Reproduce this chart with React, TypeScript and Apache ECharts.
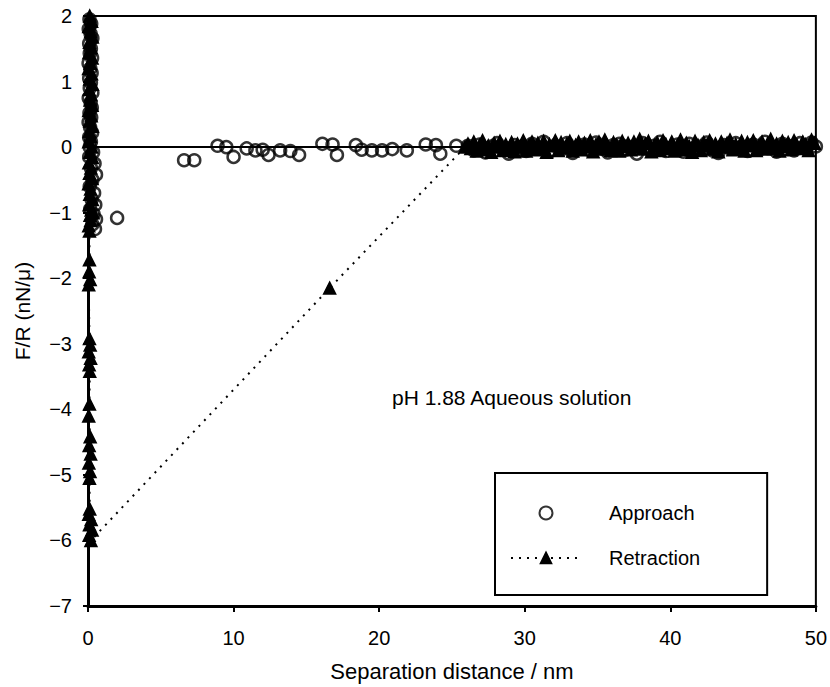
import React, { useEffect, useRef } from 'react';
import * as echarts from 'echarts';

const FONT = '"Liberation Sans", Arial, Helvetica, sans-serif';

// Approach (circles): contact column at x≈0
const approachCluster: [number, number][] = [
  [0.10, 1.95], [0.22, 1.88], [0.05, 1.80], [0.18, 1.73], [0.30, 1.66], [0.08, 1.58],
  [0.20, 1.50], [0.12, 1.43], [0.28, 1.36], [0.04, 1.28], [0.16, 1.20], [0.25, 1.13],
  [0.08, 1.05], [0.20, 0.98], [0.12, 0.90], [0.30, 0.83], [0.05, 0.75], [0.18, 0.68],
  [0.26, 0.60], [0.10, 0.52], [0.22, 0.45], [0.04, 0.38], [0.15, 0.30], [0.28, 0.22],
  [0.08, 0.15], [0.20, 0.08], [0.12, 0.0], [0.35, -0.08], [0.08, -0.15], [0.45, -0.25],
  [0.20, -0.32], [0.55, -0.42], [0.30, -0.50], [0.12, -0.60], [0.42, -0.70], [0.25, -0.80],
  [0.50, -0.88], [0.15, -0.95], [0.38, -1.02], [0.55, -1.10], [0.30, -1.18], [0.48, -1.25]
];

// Approach: isolated points between 2 and 26 nm
const approachPoints: [number, number][] = [
  [2.0, -1.08], [6.6, -0.2], [7.3, -0.2], [8.9, 0.02], [9.5, 0.0], [10.0, -0.15],
  [10.9, -0.02], [11.5, -0.05], [12.0, -0.04], [12.4, -0.12], [13.2, -0.05], [13.9, -0.06],
  [14.5, -0.12], [16.1, 0.05], [16.8, 0.04], [17.1, -0.12], [18.4, 0.03], [18.8, -0.04],
  [19.5, -0.05], [20.2, -0.05], [20.9, -0.03], [21.9, -0.05], [23.2, 0.04], [23.9, 0.03],
  [24.2, -0.1], [25.3, 0.02]
];

// Approach: baseline band 26–50 nm
const approachBand: [number, number][] = [
  [26.1, 0.02], [26.5, -0.05], [26.9, 0.04], [27.3, -0.08], [27.7, 0.01], [28.1, 0.06],
  [28.5, -0.03], [28.9, -0.1], [29.3, 0.03], [29.7, 0.0], [30.1, -0.06], [30.5, 0.05],
  [30.9, -0.02], [31.3, 0.08], [31.7, -0.07], [32.1, 0.02], [32.5, -0.04], [32.9, 0.06],
  [33.3, -0.09], [33.7, 0.01], [34.1, 0.04], [34.5, -0.05], [34.9, 0.07], [35.3, -0.02],
  [35.7, -0.08], [36.1, 0.03], [36.5, 0.05], [36.9, -0.04], [37.3, 0.0], [37.7, -0.1],
  [38.1, 0.06], [38.5, -0.03], [38.9, 0.02], [39.3, 0.08], [39.7, -0.06], [40.1, -0.01],
  [40.5, 0.04], [40.9, -0.07], [41.3, 0.05], [41.7, -0.03], [42.1, 0.01], [42.5, 0.07],
  [42.9, -0.05], [43.3, -0.09], [43.7, 0.03], [44.1, -0.02], [44.5, 0.06], [44.9, 0.0],
  [45.3, -0.06], [45.7, 0.04], [46.1, -0.04], [46.5, 0.08], [46.9, -0.01], [47.3, -0.07],
  [47.7, 0.05], [48.1, 0.02], [48.5, -0.05], [48.9, 0.06], [49.3, -0.03], [49.7, 0.07],
  [50.0, 0.01]
];

// Retraction (triangles): contact column at x≈0, down to the adhesion minimum
const retractionCluster: [number, number][] = [
  [0.12, 2.0], [0.25, 1.92], [0.05, 1.84], [0.18, 1.76], [0.30, 1.68], [0.10, 1.60],
  [0.22, 1.52], [0.06, 1.44], [0.28, 1.36], [0.15, 1.28], [0.04, 1.20], [0.24, 1.12],
  [0.12, 1.04], [0.30, 0.96], [0.08, 0.88], [0.20, 0.80], [0.14, 0.72], [0.28, 0.64],
  [0.05, 0.56], [0.22, 0.48], [0.12, 0.40], [0.30, 0.32], [0.08, 0.24], [0.18, 0.16],
  [0.05, 0.08], [0.25, 0.0], [0.12, -0.08], [0.30, -0.16], [0.06, -0.24], [0.20, -0.32],
  [0.10, -0.40], [0.28, -0.48], [0.04, -0.56], [0.18, -0.64], [0.12, -0.72], [0.30, -0.80],
  [0.08, -0.88], [0.22, -0.96], [0.14, -1.04], [0.35, -1.0], [0.18, -1.12], [0.05, -1.20],
  [0.10, -1.28], [0.10, -1.72], [0.08, -1.9], [0.15, -2.02], [0.05, -2.1],
  [0.10, -2.92], [0.15, -3.02], [0.05, -3.12], [0.18, -3.22], [0.08, -3.32], [0.12, -3.42],
  [0.10, -3.92], [0.05, -4.1], [0.15, -4.42], [0.08, -4.55], [0.18, -4.68], [0.06, -4.82],
  [0.14, -4.95], [0.10, -5.05], [0.12, -5.52], [0.05, -5.6], [0.22, -5.68], [0.10, -5.76],
  [0.28, -5.84], [0.08, -5.92], [0.20, -6.0]
];

// Retraction: jump-off
const retractionJump: [number, number][] = [[16.6, -2.15], [25.9, 0.0]];

// Retraction: baseline band 26–50 nm
const retractionBand: [number, number][] = [
  [26.1, 0.05], [26.3, -0.02], [26.5, 0.08], [26.7, -0.06], [26.9, 0.03], [27.1, 0.10],
  [27.3, -0.04], [27.5, 0.02], [27.7, -0.08], [27.9, 0.06], [28.1, 0.00], [28.3, 0.09],
  [28.5, -0.05], [28.7, 0.04], [28.9, -0.03], [29.1, 0.07], [29.3, -0.07], [29.5, 0.05],
  [29.7, 0.01], [29.9, 0.10], [30.1, -0.06], [30.3, 0.03], [30.5, 0.08], [30.7, -0.04],
  [30.9, 0.06], [31.1, -0.02], [31.3, 0.09], [31.5, -0.08], [31.7, 0.04], [31.9, 0.02],
  [32.1, 0.10], [32.3, -0.05], [32.5, 0.07], [32.7, -0.01], [32.9, 0.05], [33.1, 0.09],
  [33.3, -0.06], [33.5, 0.03], [33.7, 0.08], [33.9, -0.04], [34.1, 0.06], [34.3, 0.00],
  [34.5, 0.10], [34.7, -0.07], [34.9, 0.04], [35.1, 0.08], [35.3, -0.03], [35.5, 0.11],
  [35.7, 0.02], [35.9, -0.05], [36.1, 0.07], [36.3, 0.03], [36.5, -0.06], [36.7, 0.09],
  [36.9, 0.01], [37.1, 0.06], [37.3, -0.04], [37.5, 0.08], [37.7, 0.00], [37.9, 0.12],
  [38.1, -0.03], [38.3, 0.05], [38.5, 0.09], [38.7, -0.07], [38.9, 0.02], [39.1, 0.07],
  [39.3, -0.05], [39.5, 0.10], [39.7, 0.04], [39.9, -0.02], [40.1, 0.08], [40.3, -0.06],
  [40.5, 0.03], [40.7, 0.11], [40.9, -0.04], [41.1, 0.06], [41.3, 0.01], [41.5, -0.08],
  [41.7, 0.09], [41.9, 0.03], [42.1, -0.05], [42.3, 0.07], [42.5, 0.02], [42.7, 0.10],
  [42.9, -0.03], [43.1, 0.05], [43.3, -0.07], [43.5, 0.08], [43.7, 0.00], [43.9, 0.06],
  [44.1, 0.11], [44.3, -0.04], [44.5, 0.04], [44.7, -0.01], [44.9, 0.09], [45.1, -0.06],
  [45.3, 0.07], [45.5, 0.02], [45.7, 0.10], [45.9, -0.05], [46.1, 0.03], [46.3, 0.08],
  [46.5, -0.03], [46.7, 0.06], [46.9, 0.12], [47.1, -0.02], [47.3, 0.05], [47.5, -0.06],
  [47.7, 0.09], [47.9, 0.01], [48.1, 0.07], [48.3, -0.04], [48.5, 0.10], [48.7, 0.03],
  [48.9, -0.02], [49.1, 0.08], [49.3, 0.04], [49.5, -0.05], [49.7, 0.11], [49.9, 0.06]
];

const seriesNames = ['Approach', 'Retraction'];
const xAxisTitle = 'Separation distance / nm';
const yAxisTitle = 'F/R (nN/\u03bc)';
const annotation = 'pH 1.88 Aqueous solution';

export default function App() {
  const ref = useRef<HTMLDivElement>(null);
  useEffect(() => {
    document.body.style.margin = '0';
    if (!ref.current) return;
    const chart = echarts.init(ref.current, undefined, { renderer: 'svg' });
    chart.setOption({
      animation: false,
      backgroundColor: '#fff',
      textStyle: { fontFamily: FONT, color: '#000' },
      grid: {
        left: 88, top: 16, width: 729, height: 598,
        show: true, borderColor: '#000', borderWidth: 2, backgroundColor: 'transparent'
      },
      xAxis: {
        type: 'value', min: 0, max: 50, interval: 10,
        name: xAxisTitle, nameLocation: 'middle', nameGap: 54,
        nameTextStyle: { fontSize: 22, fontFamily: FONT, color: '#000' },
        axisLine: { onZero: false, lineStyle: { color: '#000', width: 3 } },
        axisTick: { show: true, length: 6, lineStyle: { color: '#000', width: 2 } },
        axisLabel: { fontSize: 20, fontFamily: FONT, color: '#000', margin: 22 },
        splitLine: { show: false }
      },
      yAxis: {
        type: 'value', min: -7, max: 2, interval: 1,
        name: yAxisTitle, nameLocation: 'middle', nameGap: 55,
        nameTextStyle: { fontSize: 21, fontFamily: FONT, color: '#000' },
        axisLine: { onZero: false, lineStyle: { color: '#000', width: 3 } },
        axisTick: { show: true, length: 5, lineStyle: { color: '#000', width: 2 } },
        axisLabel: {
          fontSize: 20, fontFamily: FONT, color: '#000', margin: 16,
          formatter: (v: number) => String(v).replace('-', '\u2212')
        },
        splitLine: { show: false }
      },
      legend: {
        data: seriesNames,
        orient: 'vertical',
        left: 495, top: 473,
        padding: [30, 67, 27, 15],
        itemWidth: 70, itemHeight: 13, itemGap: 25,
        borderColor: '#000', borderWidth: 2, backgroundColor: '#fff',
        textStyle: { fontSize: 20, fontFamily: FONT, color: '#000', padding: [0, 0, 0, 23] }
      },
      graphic: [
        {
          type: 'text', left: 392, top: 387, z: 10,
          style: { text: annotation, font: `21px ${FONT}`, fill: '#000' }
        }
      ],
      series: [
        {
          name: seriesNames[0],
          type: 'scatter',
          data: [...approachCluster, ...approachPoints, ...approachBand],
          symbol: 'circle', symbolSize: 12,
          itemStyle: { color: 'rgba(255,255,255,0)', borderColor: '#000', borderWidth: 2.5 },
          z: 2,
          markLine: {
            silent: true, symbol: 'none', label: { show: false },
            lineStyle: { color: '#000', width: 2, type: 'solid' },
            data: [{ yAxis: 0 }]
          }
        },
        {
          name: seriesNames[1],
          type: 'line',
          data: [...retractionCluster, ...retractionJump, ...retractionBand],
          symbol: 'triangle', symbolSize: 12, showSymbol: true, showAllSymbol: true, clip: false,
          itemStyle: { color: '#000', borderColor: '#000', borderWidth: 1.5 },
          lineStyle: { color: '#000', width: 2, type: [2, 6] },
          z: 6
        }
      ]
    });
    return () => chart.dispose();
  }, []);
  return <div ref={ref} style={{ width: 830, height: 687 }} />;
}
